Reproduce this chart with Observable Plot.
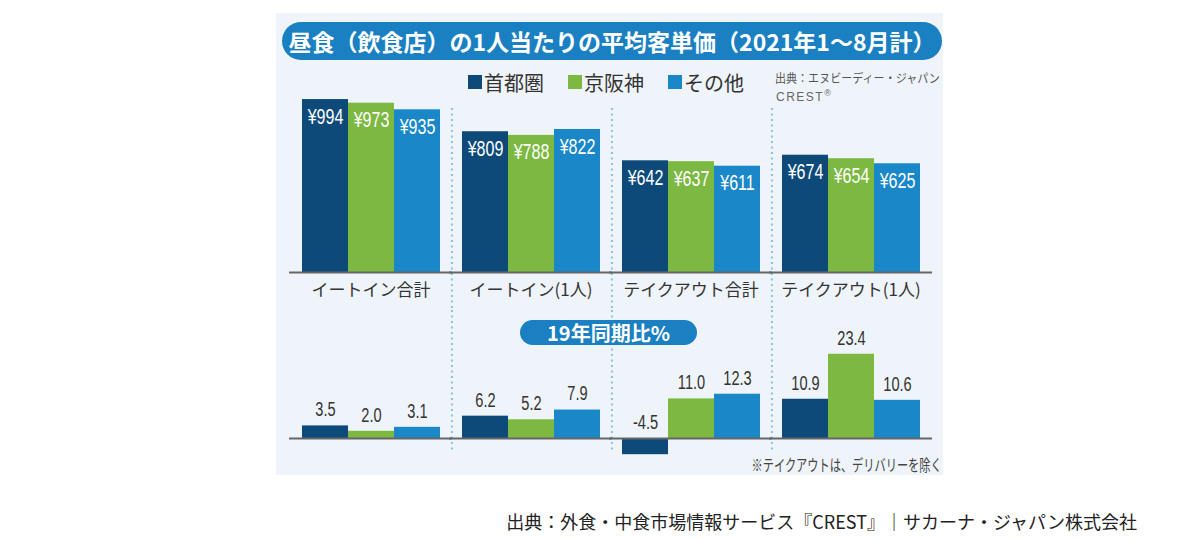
<!DOCTYPE html>
<html>
<head>
<meta charset="utf-8">
<script src="https://cdn.jsdelivr.net/npm/d3@7"></script>
<script src="https://cdn.jsdelivr.net/npm/@observablehq/plot@0.6"></script>
<style>
  body { margin: 0; background: #fff; font-family: "Noto Sans CJK JP", "Noto Sans", sans-serif; }
  #root { position: relative; width: 1200px; height: 540px; overflow: hidden; }
  .abs { position: absolute; }
  #panel { left: 276px; top: 13px; width: 667px; height: 462px; background: #eef4f9; }
  #title { left: 282px; top: 22px; width: 660px; height: 38px; border-radius: 19px; background: #1a80c2;
           color: #fff; font-weight: 700; font-size: 23px; line-height: 38px; text-align: center; white-space: nowrap; }
  #legend { left: 468px; top: 70px; height: 24px; display: flex; align-items: center; font-size: 20px; color: #333; }
  #legend .item { display: flex; align-items: center; margin-right: 24px; }
  #legend .sw { width: 14px; height: 14px; margin-right: 2px; }
  #src1 { left: 775px; top: 69px; font-size: 12px; color: #555; white-space: nowrap; transform: scaleX(0.92); transform-origin: left; }
  #src2 { left: 776px; top: 88px; font-size: 12px; color: #666; letter-spacing: 1.5px; font-family: "Liberation Sans", sans-serif; }
  #src2 sup { font-size: 9px; }
  #pill2 { left: 520px; top: 320px; width: 177px; height: 25px; border-radius: 13px; background: #1a80c2; color: #fff;
           font-weight: 700; font-size: 20px; line-height: 25px; text-align: center; white-space: nowrap; }
  #note { right: 258px; top: 452px; font-size: 16px; color: #444; white-space: nowrap; transform: scaleX(0.70); transform-origin: right; }
  #caption { right: 63px; top: 508px; font-size: 18px; color: #222; white-space: nowrap; }
  svg { position: absolute; left: 0; }
</style>
</head>
<body>
<div id="root">
  <div id="panel" class="abs"></div>
</div>
<script>
// ---- data ----
const titleText = "昼食（飲食店）の1人当たりの平均客単価（2021年1〜8月計）";
const categories = ["イートイン合計", "イートイン(1人)", "テイクアウト合計", "テイクアウト(1人)"];
const regions = ["首都圏", "京阪神", "その他"];
const regionColors = ["#0d4a7a", "#7cb842", "#1a87c8"];
const priceShutoken = [994, 809, 642, 674];
const priceKeihanshin = [973, 788, 637, 654];
const priceOther = [935, 822, 611, 625];
const changeShutoken = [3.5, 6.2, -4.5, 10.9];
const changeKeihanshin = [2.0, 5.2, 11.0, 23.4];
const changeOther = [3.1, 7.9, 12.3, 10.6];
const subTitle = "19年同期比%";
const noteText = "※テイクアウトは、デリバリーを除く";
const sourceSmall = "出典：エヌビーディー・ジャパン";
const captionText = "出典：外食・中食市場情報サービス『CREST』｜サカーナ・ジャパン株式会社";

const priceSeries = [priceShutoken, priceKeihanshin, priceOther];
const changeSeries = [changeShutoken, changeKeihanshin, changeOther];
const priceData = [];
const changeData = [];
categories.forEach((c, i) => regions.forEach((r, j) => {
  priceData.push({cat: c, region: r, value: priceSeries[j][i]});
  changeData.push({cat: c, region: r, value: changeSeries[j][i]});
}));

const root = document.getElementById("root");
function addDiv(id, html) {
  const d = document.createElement("div");
  d.id = id; d.className = "abs"; d.innerHTML = html; root.appendChild(d); return d;
}

const numFont = "'Liberation Sans', Arial, sans-serif";
const common = {
  width: 1200,
  marginLeft: 287,
  marginRight: 265,
  style: {background: "transparent", fontFamily: "'Noto Sans CJK JP', sans-serif", fontSize: "17px", color: "#333", overflow: "visible"},
  x: {domain: regions, padding: 0, axis: null},
  color: {domain: regions, range: regionColors}
};
const fxOpts = {domain: categories, paddingInner: 0.13, paddingOuter: 0.09, label: null};
const sepStyle = {stroke: "#86c3e3", strokeWidth: 2, strokeDasharray: "2,3.5", dx: -33.6};

// ---- top chart: prices ----
const topPlot = Plot.plot({
  ...common,
  height: 220,
  marginTop: 8,
  marginBottom: 38,
  fx: {...fxOpts, axis: "bottom", tickSize: 0, tickPadding: 11},
  y: {domain: [0, 1000], axis: null},
  marks: [
    Plot.ruleX(categories.slice(1), {fx: d => d, x: () => regions[0], ...sepStyle, insetTop: 10, insetBottom: -38}),
    Plot.barY(priceData, {fx: "cat", x: "region", y: "value", fill: "region"}),
    Plot.ruleY([0], {stroke: "#666", strokeWidth: 2, insetLeft: -12, insetRight: -12}),
    Plot.text(priceData, {fx: "cat", x: "region", y: "value", text: d => "¥" + d.value, fill: "white",
      dy: 17, fontSize: 22, fontFamily: numFont})
  ]
});
topPlot.style.top = "90px";
root.appendChild(topPlot);

// ---- bottom chart: change vs 2019 ----
const bottomPlot = Plot.plot({
  ...common,
  height: 165,
  marginTop: 38,
  marginBottom: 19,
  fx: {...fxOpts, axis: null},
  y: {domain: [-5, 25], axis: null},
  marks: [
    Plot.ruleX(categories.slice(1), {fx: d => d, x: () => regions[0], ...sepStyle, insetTop: -38, insetBottom: 6}),
    Plot.barY(changeData, {fx: "cat", x: "region", y: "value", fill: "region"}),
    Plot.ruleY([0], {stroke: "#666", strokeWidth: 2, insetLeft: -12, insetRight: -12}),
    Plot.text(changeData, {fx: "cat", x: "region", y: d => Math.max(d.value, 0), text: d => d.value.toFixed(1),
      fill: "#333", dy: -16, fontSize: 20, fontFamily: numFont})
  ]
});
bottomPlot.style.top = "310px";
root.appendChild(bottomPlot);

// condensed look of the number labels (horizontal compression of the glyphs)
for (const svg of [topPlot, bottomPlot]) {
  svg.querySelectorAll('g[aria-label="text"] text').forEach(t => {
    const w = t.getComputedTextLength();
    t.setAttribute("textLength", (w * 0.73).toFixed(1));
    t.setAttribute("lengthAdjust", "spacingAndGlyphs");
  });
}

// ---- text overlays ----
addDiv("title", titleText);
addDiv("legend", regions.map((r, i) =>
  `<span class="item"><span class="sw" style="background:${regionColors[i]}"></span>${r}</span>`).join(""));
addDiv("src1", sourceSmall);
addDiv("src2", "CREST<sup>®</sup>");
addDiv("pill2", subTitle);
addDiv("note", noteText);
addDiv("caption", captionText);
</script>
</body>
</html>
